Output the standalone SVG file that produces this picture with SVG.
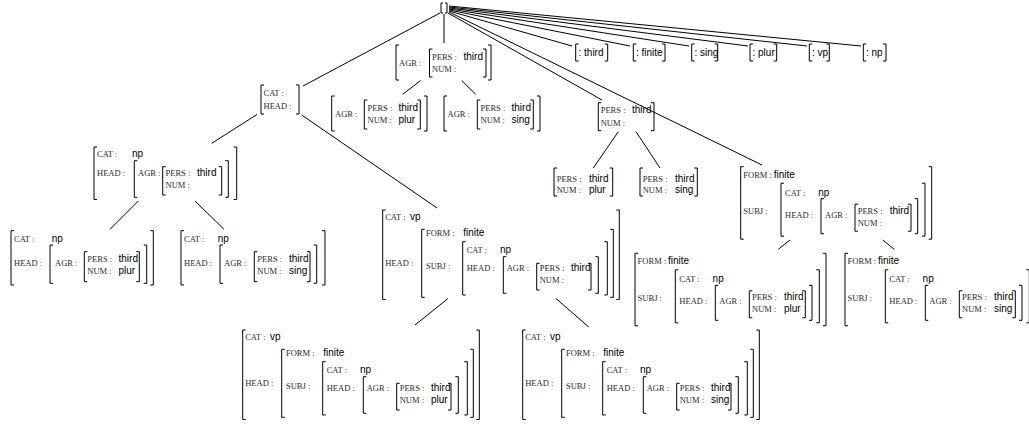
<svg xmlns="http://www.w3.org/2000/svg" width="1029" height="424" viewBox="0 0 1029 424">
<style>
.b{fill:none;stroke:#000;stroke-width:1}
.c{fill:none;stroke:#000;stroke-width:1}
.l{font-family:"Liberation Serif",serif;font-size:8.5px;fill:#2a2a2a;letter-spacing:0}
.v{font-family:"Liberation Sans",sans-serif;font-size:10px;fill:#000;letter-spacing:0}
</style>
<rect width="1029" height="424" fill="#fff"/>
<g id="connectors" class="c">
<line x1="440" y1="13" x2="303" y2="86"/>
<line x1="444" y1="14" x2="444" y2="43"/>
<line x1="448" y1="13" x2="602" y2="100"/>
<line x1="449" y1="12" x2="762" y2="165"/>
<line x1="449" y1="11" x2="572" y2="46"/>
<line x1="449" y1="10" x2="630" y2="46"/>
<line x1="449" y1="9" x2="689" y2="46"/>
<line x1="449" y1="8" x2="748" y2="46"/>
<line x1="449" y1="7" x2="807" y2="46"/>
<line x1="449" y1="6" x2="861" y2="46"/>
<line x1="420.7" y1="80.5" x2="402.7" y2="94.3"/>
<line x1="461.7" y1="80.5" x2="475.7" y2="94.3"/>
<line x1="257" y1="114.5" x2="211.7" y2="143.3"/>
<line x1="301.7" y1="115" x2="437" y2="208"/>
<line x1="138.3" y1="201" x2="110" y2="229.3"/>
<line x1="195" y1="201" x2="224" y2="229.3"/>
<line x1="448" y1="298.5" x2="415" y2="325"/>
<line x1="556" y1="298.5" x2="588.7" y2="327"/>
<line x1="618.3" y1="131.7" x2="593.3" y2="168"/>
<line x1="636" y1="131.7" x2="660" y2="168"/>
<line x1="790" y1="240" x2="778.3" y2="249.3"/>
<line x1="882.7" y1="240" x2="894.3" y2="249.3"/>
</g>

<g id="n0"><path class="b" d="M443,3H441V13H443 M445,3H447V13H445"/></g>

<g id="n1">
<path class="b" d="M264,85H261V114H264 M296,85H299V114H296"/>
<text class="l" x="263.5" y="96">CAT :</text>
<text class="l" x="263.5" y="109">HEAD :</text>
</g>

<g id="n2">
<path class="b" d="M399,45H396V80H399 M488,45H491V80H488"/>
<text class="l" x="399" y="66">AGR :</text>
<path class="b" d="M432.5,49H429.5V77H432.5 M483,49H486V77H483"/>
<text class="l" x="432" y="60">PERS :<tspan class="v" x="463.5">third</tspan></text>
<text class="l" x="432" y="72">NUM :</text>
</g>

<g id="n3">
<path class="b" d="M334.7,96H331.7V131H334.7 M424,96H427V131H424"/>
<text class="l" x="335" y="116.5">AGR :</text>
<path class="b" d="M367.3,100H364.3V129H367.3 M417.3,100H420.3V129H417.3"/>
<text class="l" x="367.5" y="111">PERS :<tspan class="v" x="398.5">third</tspan></text>
<text class="l" x="367.5" y="123">NUM :<tspan class="v" x="398.5">plur</tspan></text>
</g>

<g id="n4">
<path class="b" d="M447,96H444V131H447 M537,96H540V131H537"/>
<text class="l" x="447.5" y="116.5">AGR :</text>
<path class="b" d="M480.3,100H477.3V129H480.3 M530.3,100H533.3V129H530.3"/>
<text class="l" x="480.5" y="111">PERS :<tspan class="v" x="511.5">third</tspan></text>
<text class="l" x="480.5" y="123">NUM :<tspan class="v" x="511.5">sing</tspan></text>
</g>

<g id="n5" transform="translate(94,147)">
<path class="b" d="M3,0H0V52.5H3 M139.7,0H142.7V52.5H139.7"/>
<text class="l" x="3" y="10">CAT :<tspan class="v" x="38">np</tspan></text>
<text class="l" x="3" y="29.3">HEAD :</text>
<path class="b" d="M43.3,13.7H40.3V50.3H43.3 M131.3,13.7H134.3V50.3H131.3"/>
<text class="l" x="44" y="29.3">AGR :</text>
<path class="b" d="M71.7,19.7H68.7V48H71.7 M124.7,19.7H127.7V48H124.7"/>
<text class="l" x="71.5" y="29.3">PERS :<tspan class="v" x="103">third</tspan></text>
<text class="l" x="71.5" y="41">NUM :</text>
</g>

<g id="n10" transform="translate(11,230.7)">
<path class="b" d="M3,0H0V54.3H3 M139.3,0H142.3V54.3H139.3"/>
<text class="l" x="3" y="11.5">CAT :<tspan class="v" x="40.7">np</tspan></text>
<text class="l" x="3" y="35">HEAD :</text>
<path class="b" d="M42,14.3H39V52.6H42 M132.7,14.3H135.7V52.6H132.7"/>
<text class="l" x="44" y="35">AGR :</text>
<path class="b" d="M76.3,21H73.3V51H76.3 M125.3,21H128.3V51H125.3"/>
<text class="l" x="76.3" y="31">PERS :<tspan class="v" x="107.5">third</tspan></text>
<text class="l" x="76.3" y="43.5">NUM :<tspan class="v" x="107.5">plur</tspan></text>
</g>

<g id="n11" transform="translate(181,230.7)">
<path class="b" d="M3,0H0V54.3H3 M141,0H144V54.3H141"/>
<text class="l" x="3" y="11.5">CAT :<tspan class="v" x="36.7">np</tspan></text>
<text class="l" x="3" y="35">HEAD :</text>
<path class="b" d="M42,14.3H39V52.6H42 M132.7,14.3H135.7V52.6H132.7"/>
<text class="l" x="43" y="35">AGR :</text>
<path class="b" d="M76.3,21H73.3V51H76.3 M126,21H129V51H126"/>
<text class="l" x="76.3" y="31">PERS :<tspan class="v" x="108">third</tspan></text>
<text class="l" x="76.3" y="43.5">NUM :<tspan class="v" x="108">sing</tspan></text>
</g>

<g id="n6">
<path class="b" d="M601.3,102.7H598.3V130.7H601.3 M651,102.7H654V130.7H651"/>
<text class="l" x="600.7" y="113">PERS :<tspan class="v" x="632">third</tspan></text>
<text class="l" x="600.7" y="126.3">NUM :</text>
</g>

<g id="n8">
<path class="b" d="M557,168H554V196H557 M609.7,168H612.7V196H609.7"/>
<text class="l" x="556.7" y="182">PERS :<tspan class="v" x="589">third</tspan></text>
<text class="l" x="556.7" y="193">NUM :<tspan class="v" x="589">plur</tspan></text>
</g>

<g id="n9">
<path class="b" d="M643,168H640V196H643 M694.3,168H697.3V196H694.3"/>
<text class="l" x="642.7" y="182">PERS :<tspan class="v" x="675">third</tspan></text>
<text class="l" x="642.7" y="193">NUM :<tspan class="v" x="675">sing</tspan></text>
</g>

<g id="leaf-third"><path class="b" d="M578.7,44H575.7V61H578.7 M604.7,44H607.7V61H604.7"/><text class="v" x="578.5" y="56">: third</text></g>
<g id="leaf-finite"><path class="b" d="M636.3,44H633.3V61H636.3 M662,44H665V61H662"/><text class="v" x="636" y="56">: finite</text></g>
<g id="leaf-sing"><path class="b" d="M694.7,44H691.7V61H694.7 M714.7,44H717.7V61H714.7"/><text class="v" x="694.5" y="56">: sing</text></g>
<g id="leaf-plur"><path class="b" d="M753,44H750V61H753 M773.7,44H776.7V61H773.7"/><text class="v" x="752.5" y="56">: plur</text></g>
<g id="leaf-vp"><path class="b" d="M812.3,44H809.3V61H812.3 M826.3,44H829.3V61H826.3"/><text class="v" x="812" y="56">: vp</text></g>
<g id="leaf-np"><path class="b" d="M866.3,44H863.3V61H866.3 M883,44H886V61H883"/><text class="v" x="866" y="56">: np</text></g>

<g id="n7" transform="translate(382.7,210)">
<path class="b" d="M3,0H0V89.5H3 M233.6,0H236.6V89.5H233.6"/>
<text class="l" x="2.5" y="9.7">CAT :<tspan class="v" x="27.3">vp</tspan></text>
<text class="l" x="2.5" y="56.3">HEAD :</text>
<path class="b" d="M42,19.3H39V87.3H42 M227.6,19.3H230.6V87.3H227.6"/>
<text class="l" x="43.3" y="26.3">FORM :<tspan class="v" x="80.6">finite</tspan></text>
<text class="l" x="43.3" y="59">SUBJ :</text>
<path class="b" d="M83,31.7H80V85H83 M221.6,31.7H224.6V85H221.6"/>
<text class="l" x="84" y="43">CAT :<tspan class="v" x="117.3">np</tspan></text>
<text class="l" x="84" y="61.3">HEAD :</text>
<path class="b" d="M123.6,46.7H120.6V83.3H123.6 M212.6,46.7H215.6V83.3H212.6"/>
<text class="l" x="124" y="61.3">AGR :</text>
<path class="b" d="M157,53.3H154V80H157 M205.3,53.3H208.3V80H205.3"/>
<text class="l" x="157" y="61.3">PERS :<tspan class="v" x="188.3">third</tspan></text>
<text class="l" x="157" y="73">NUM :</text>
</g>

<g id="n12" transform="translate(242.7,330)">
<path class="b" d="M3,0H0V89.5H3 M233.6,0H236.6V89.5H233.6"/>
<text class="l" x="2.5" y="9.7">CAT :<tspan class="v" x="27.3">vp</tspan></text>
<text class="l" x="2.5" y="56.3">HEAD :</text>
<path class="b" d="M42,19.3H39V87.3H42 M227.6,19.3H230.6V87.3H227.6"/>
<text class="l" x="43.3" y="26.3">FORM :<tspan class="v" x="80.6">finite</tspan></text>
<text class="l" x="43.3" y="59">SUBJ :</text>
<path class="b" d="M83,31.7H80V85H83 M221.6,31.7H224.6V85H221.6"/>
<text class="l" x="84" y="43">CAT :<tspan class="v" x="117.3">np</tspan></text>
<text class="l" x="84" y="61.3">HEAD :</text>
<path class="b" d="M123.6,46.7H120.6V83.3H123.6 M212.6,46.7H215.6V83.3H212.6"/>
<text class="l" x="124" y="61.3">AGR :</text>
<path class="b" d="M157,53.3H154V80H157 M205.3,53.3H208.3V80H205.3"/>
<text class="l" x="157" y="61.3">PERS :<tspan class="v" x="188.3">third</tspan></text>
<text class="l" x="157" y="73">NUM :<tspan class="v" x="188.3">plur</tspan></text>
</g>

<g id="n13" transform="translate(522.7,330)">
<path class="b" d="M3,0H0V89.5H3 M233.6,0H236.6V89.5H233.6"/>
<text class="l" x="2.5" y="9.7">CAT :<tspan class="v" x="27.3">vp</tspan></text>
<text class="l" x="2.5" y="56.3">HEAD :</text>
<path class="b" d="M42,19.3H39V87.3H42 M227.6,19.3H230.6V87.3H227.6"/>
<text class="l" x="43.3" y="26.3">FORM :<tspan class="v" x="80.6">finite</tspan></text>
<text class="l" x="43.3" y="59">SUBJ :</text>
<path class="b" d="M83,31.7H80V85H83 M221.6,31.7H224.6V85H221.6"/>
<text class="l" x="84" y="43">CAT :<tspan class="v" x="117.3">np</tspan></text>
<text class="l" x="84" y="61.3">HEAD :</text>
<path class="b" d="M123.6,46.7H120.6V83.3H123.6 M212.6,46.7H215.6V83.3H212.6"/>
<text class="l" x="124" y="61.3">AGR :</text>
<path class="b" d="M157,53.3H154V80H157 M205.3,53.3H208.3V80H205.3"/>
<text class="l" x="157" y="61.3">PERS :<tspan class="v" x="188.3">third</tspan></text>
<text class="l" x="157" y="73">NUM :<tspan class="v" x="188.3">sing</tspan></text>
</g>

<g id="n14" transform="translate(740.7,166.7)">
<path class="b" d="M3,0H0V72.5H3 M188,0H191V72.5H188"/>
<text class="l" x="2.6" y="11">FORM :<tspan class="v" x="33">finite</tspan></text>
<text class="l" x="2.6" y="47.5">SUBJ :</text>
<path class="b" d="M43.3,16.5H40.3V69.5H43.3 M181.3,16.5H184.3V69.5H181.3"/>
<text class="l" x="44.3" y="29">CAT :<tspan class="v" x="77.6">np</tspan></text>
<text class="l" x="44.3" y="51">HEAD :</text>
<path class="b" d="M83.3,32H80.3V67H83.3 M174,32H177V67H174"/>
<text class="l" x="84.3" y="51">AGR :</text>
<path class="b" d="M117.3,37.5H114.3V64.5H117.3 M167.3,37.5H170.3V64.5H167.3"/>
<text class="l" x="117" y="47">PERS :<tspan class="v" x="149">third</tspan></text>
<text class="l" x="117" y="59">NUM :</text>
</g>

<g id="n15" transform="translate(635,253.3)">
<path class="b" d="M3,0H0V72.5H3 M188,0H191V72.5H188"/>
<text class="l" x="2.6" y="11">FORM :<tspan class="v" x="33">finite</tspan></text>
<text class="l" x="2.6" y="47.5">SUBJ :</text>
<path class="b" d="M43.3,16.5H40.3V69.5H43.3 M181.3,16.5H184.3V69.5H181.3"/>
<text class="l" x="44.3" y="29">CAT :<tspan class="v" x="77.6">np</tspan></text>
<text class="l" x="44.3" y="51">HEAD :</text>
<path class="b" d="M83.3,32H80.3V67H83.3 M174,32H177V67H174"/>
<text class="l" x="84.3" y="51">AGR :</text>
<path class="b" d="M117.3,37.5H114.3V64.5H117.3 M167.3,37.5H170.3V64.5H167.3"/>
<text class="l" x="117" y="47">PERS :<tspan class="v" x="149">third</tspan></text>
<text class="l" x="117" y="59">NUM :<tspan class="v" x="149">plur</tspan></text>
</g>

<g id="n16" transform="translate(845,253.3)">
<path class="b" d="M3,0H0V72.5H3 M188,0H191V72.5H188"/>
<text class="l" x="2.6" y="11">FORM :<tspan class="v" x="33">finite</tspan></text>
<text class="l" x="2.6" y="47.5">SUBJ :</text>
<path class="b" d="M43.3,16.5H40.3V69.5H43.3 M181.3,16.5H184.3V69.5H181.3"/>
<text class="l" x="44.3" y="29">CAT :<tspan class="v" x="77.6">np</tspan></text>
<text class="l" x="44.3" y="51">HEAD :</text>
<path class="b" d="M83.3,32H80.3V67H83.3 M174,32H177V67H174"/>
<text class="l" x="84.3" y="51">AGR :</text>
<path class="b" d="M117.3,37.5H114.3V64.5H117.3 M167.3,37.5H170.3V64.5H167.3"/>
<text class="l" x="117" y="47">PERS :<tspan class="v" x="149">third</tspan></text>
<text class="l" x="117" y="59">NUM :<tspan class="v" x="149">sing</tspan></text>
</g>
</svg>
